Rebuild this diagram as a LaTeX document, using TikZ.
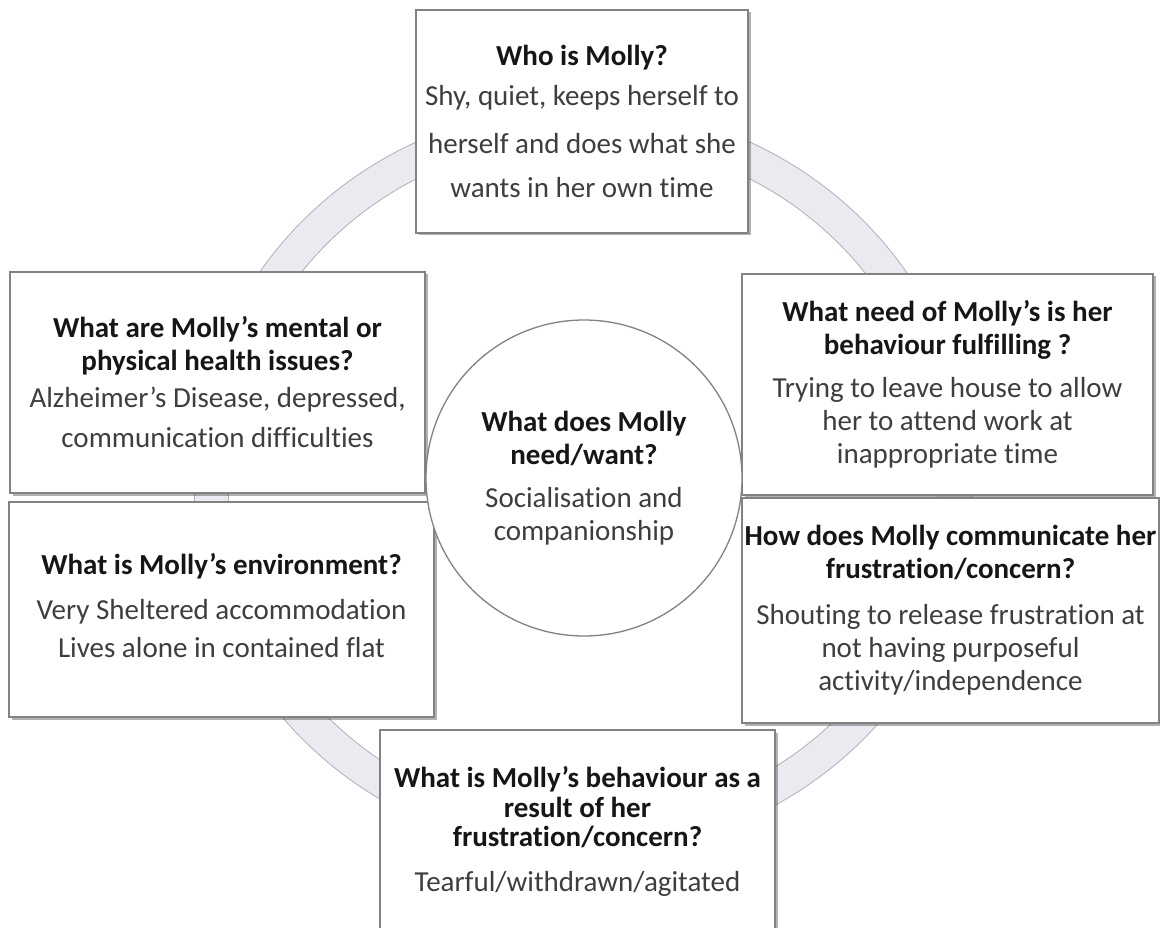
\documentclass[tikz,border=0pt]{standalone}
\usepackage{fontspec}
\setmainfont{Carlito}[Ligatures=NoCommon]
\usetikzlibrary{shadows}
\definecolor{ringfill}{RGB}{234,234,241}
\definecolor{ringedge}{RGB}{175,175,185}
\definecolor{boxedge}{RGB}{130,130,130}
\definecolor{titlecol}{RGB}{22,22,22}
\definecolor{bodycol}{RGB}{62,62,62}
\newcommand{\tl}[1]{\textcolor{titlecol}{\bfseries #1}}
\tikzset{
  box/.style={rectangle, draw=boxedge, line width=1.3pt, fill=white, inner sep=0pt,
    align=center, text=bodycol, font=\fontsize{29}{33}\selectfont,
    drop shadow={shadow xshift=2.5pt, shadow yshift=-2.5pt, fill=black, opacity=0.3}},
  hub/.style={circle, draw=boxedge, line width=1.3pt, fill=white, inner sep=0pt,
    align=center, text=bodycol, font=\fontsize{29}{33}\selectfont, minimum size=316pt},
  ring/.style={fill=ringfill, draw=ringedge, line width=0.8pt, even odd rule}
}
\begin{document}
\begin{tikzpicture}[x=1pt, y=-1pt]
\useasboundingbox (0,0) rectangle (1160,928);
\coordinate (rc) at (583,480);
% ring
\path[ring] (rc) ellipse [x radius=389pt, y radius=374pt]
            (rc) ellipse [x radius=355pt, y radius=341pt];
% boxes
\node[box, minimum width=332pt, minimum height=223pt] (who) at (582,121.5)
  {\tl{Who is Molly?}\\[7pt]
   Shy, quiet, keeps herself to\\[15pt]
   herself and does what she\\[11pt]
   wants in her own time};
\node[box, minimum width=415pt, minimum height=221pt] (health) at (217.5,382.5)
  {\tl{What are Molly’s mental or}\\
   \tl{physical health issues?}\\[4pt]
   Alzheimer’s Disease, depressed,\\[7pt]
   communication difficulties};
\node[box, minimum width=411pt, minimum height=221pt] (needb) at (947.5,384.5)
  {\tl{What need of Molly’s is her}\\
   \tl{behaviour fulfilling ?}\\[10pt]
   Trying to leave house to allow\\
   her to attend work at\\
   inappropriate time};
\node[box, minimum width=425pt, minimum height=215pt] (env) at (221.5,609.5)
  {\tl{What is Molly’s environment?}\\[12pt]
   Very Sheltered accommodation\\[5pt]
   Lives alone in contained flat\\[-25pt]\mbox{}};
\node[box, minimum width=417pt, minimum height=225pt] (comm) at (950.5,610.5)
  {\tl{How does Molly communicate her}\\
   \tl{frustration/concern?}\\[13pt]
   Shouting to release frustration at\\
   not having purposeful\\
   activity/independence};
\node[box, minimum width=395pt, minimum height=202pt] (behav) at (577.5,831)
  {\tl{What is Molly’s behaviour as a}\\[-3pt]
   \tl{result of her}\\[-4pt]
   \tl{frustration/concern?}\\[12pt]
   Tearful/withdrawn/agitated};
% central circle
\node[hub] (want) at (584,478)
  {\tl{What does Molly}\\
   \tl{need/want?}\\[10pt]
   Socialisation and\\
   companionship};
\end{tikzpicture}
\end{document}
